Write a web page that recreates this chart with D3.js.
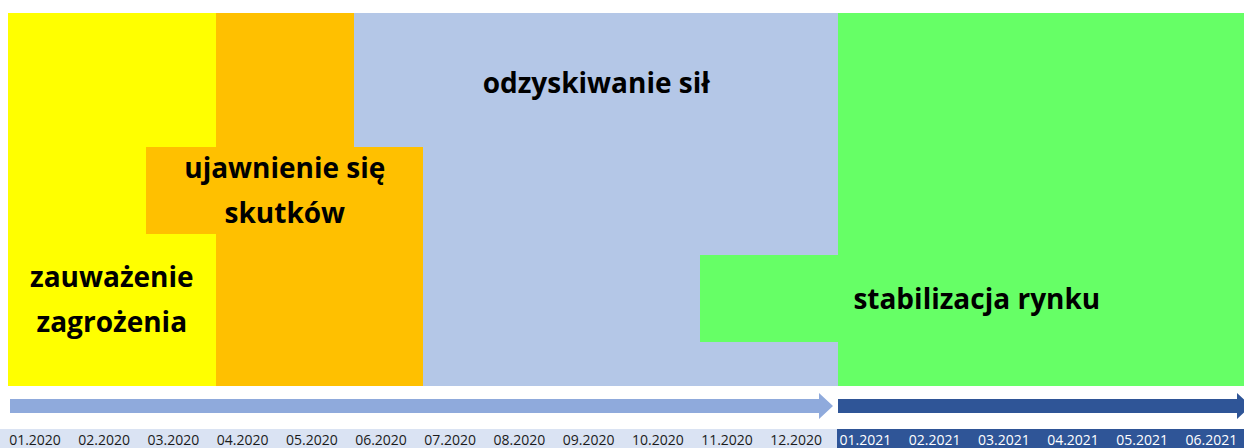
<!DOCTYPE html>
<html>
<head>
<meta charset="utf-8">
<script src="https://cdn.jsdelivr.net/npm/d3@7"></script>
<style>
  body { margin: 0; background: #fff; }
  text { font-family: "Open Sans", sans-serif; }
</style>
</head>
<body>
<svg id="timeline-svg"></svg>
<script>
// months on the time axis
const months = ["01.2020", "02.2020", "03.2020", "04.2020", "05.2020", "06.2020",
                "07.2020", "08.2020", "09.2020", "10.2020", "11.2020", "12.2020",
                "01.2021", "02.2021", "03.2021", "04.2021", "05.2021", "06.2021"];

// phases (start / end in months from 01.2020)
const phaseLabels = [["zauważenie", "zagrożenia"], ["ujawnienie się", "skutków"], ["odzyskiwanie sił"], ["stabilizacja rynku"]];
const phaseStart = [0, 3, 6, 12];
const phaseEnd = [3, 6, 12, 18];
const phaseColors = ["#ffff00", "#ffc000", "#b4c7e7", "#66ff66"];

// label boxes (months, and percent of height from top)
const boxStart = [0, 2, 5, 10];
const boxEnd = [3, 6, 12, 18];
const boxTop = [59.2, 35.9, 0, 64.9];
const boxBottom = [94.4, 59.2, 37.5, 88.2];

// the two arrows under the phases: 2020 and 2021
const arrowStart = [0, 12];
const arrowEnd = [12, 18];
const arrowColors = ["#8faadc", "#2f5597"];

const width = 1244, height = 448;

const svg = d3.select("#timeline-svg")
    .attr("width", width)
    .attr("height", height);

const x = d3.scaleLinear()
    .domain([0, 18])
    .range([8, 8 + 69.2 * 18]);

// rounded copy so neighbouring areas share a clean pixel edge
const xr = x.copy().rangeRound(x.range());

const y = d3.scaleLinear()
    .domain([0, 100])
    .range([13, 386])
    .interpolate(d3.interpolateRound);

const phases = phaseLabels.map((lines, i) => ({
    lines,
    start: phaseStart[i], end: phaseEnd[i], color: phaseColors[i],
    b0: boxStart[i], b1: boxEnd[i], top: boxTop[i], bottom: boxBottom[i]
}));

const chart = svg.append("g");

// clip so the last phase stops at the window edge
svg.append("defs").append("clipPath").attr("id", "clip")
    .append("rect").attr("x", 0).attr("y", 0).attr("width", width).attr("height", height);
chart.attr("clip-path", "url(#clip)");

// main phase areas
chart.selectAll(".phase")
    .data(phases)
    .enter().append("rect")
    .attr("class", "phase")
    .attr("x", d => xr(d.start))
    .attr("y", y(0))
    .attr("width", d => xr(d.end) - xr(d.start))
    .attr("height", y(100) - y(0))
    .attr("fill", d => d.color);

// label boxes, drawn top to bottom so they overlap right
const boxes = phases.slice().sort((a, b) => a.top - b.top);

chart.selectAll(".box")
    .data(boxes)
    .enter().append("rect")
    .attr("class", "box")
    .attr("x", d => xr(d.b0))
    .attr("y", d => y(d.top))
    .attr("width", d => xr(d.b1) - xr(d.b0))
    .attr("height", d => y(d.bottom) - y(d.top))
    .attr("fill", d => d.color);

const lineGap = 45;

const labels = chart.selectAll(".label")
    .data(boxes)
    .enter().append("text")
    .attr("class", "label")
    .attr("text-anchor", "middle")
    .style("font-size", "28px")
    .style("font-weight", "700")
    .attr("fill", "#000")
    .attr("transform", d => {
        const cx = (x(d.b0) + x(d.b1)) / 2;
        const cy = (y(d.top) + y(d.bottom)) / 2 + 10 - (d.lines.length - 1) * lineGap / 2;
        return `translate(${cx}, ${cy})`;
    });

labels.selectAll("tspan")
    .data(d => d.lines)
    .enter().append("tspan")
    .attr("x", 0)
    .attr("y", (d, i) => i * lineGap)
    .text(d => d);

// arrows
const arrowY = 406, bodyHalf = 7, headHalf = 13, headLen = 14;
const arrows = arrowStart.map((s, i) => ({ start: s, end: arrowEnd[i], color: arrowColors[i] }));

chart.selectAll(".arrow")
    .data(arrows)
    .enter().append("path")
    .attr("class", "arrow")
    .attr("fill", d => d.color)
    .attr("d", (d, i) => {
        const x0 = xr(d.start) + (i === 0 ? 2 : 0);
        const tip = xr(d.end) - (i === 0 ? 5 : 3);
        const base = tip - headLen;
        return `M${x0},${arrowY - bodyHalf} L${base},${arrowY - bodyHalf} L${base},${arrowY - headHalf}
                L${tip},${arrowY} L${base},${arrowY + headHalf} L${base},${arrowY + bodyHalf}
                L${x0},${arrowY + bodyHalf} Z`;
    });

// month band at the bottom
const bandTop = 429;
const split = xr(12) - 1;
chart.append("rect")
    .attr("x", 0).attr("y", bandTop)
    .attr("width", split).attr("height", height - bandTop)
    .attr("fill", "#dae3f3");
chart.append("rect")
    .attr("x", split).attr("y", bandTop)
    .attr("width", width - split).attr("height", height - bandTop)
    .attr("fill", "#2f5597");

chart.selectAll(".month")
    .data(months)
    .enter().append("text")
    .attr("class", "month")
    .attr("x", (d, i) => x(i) + 27)
    .attr("y", 445)
    .attr("text-anchor", "middle")
    .style("font-size", "14px")
    .attr("fill", (d, i) => i >= 12 ? "#ffffff" : "#1b1b1b")
    .text(d => d);
</script>
</body>
</html>
